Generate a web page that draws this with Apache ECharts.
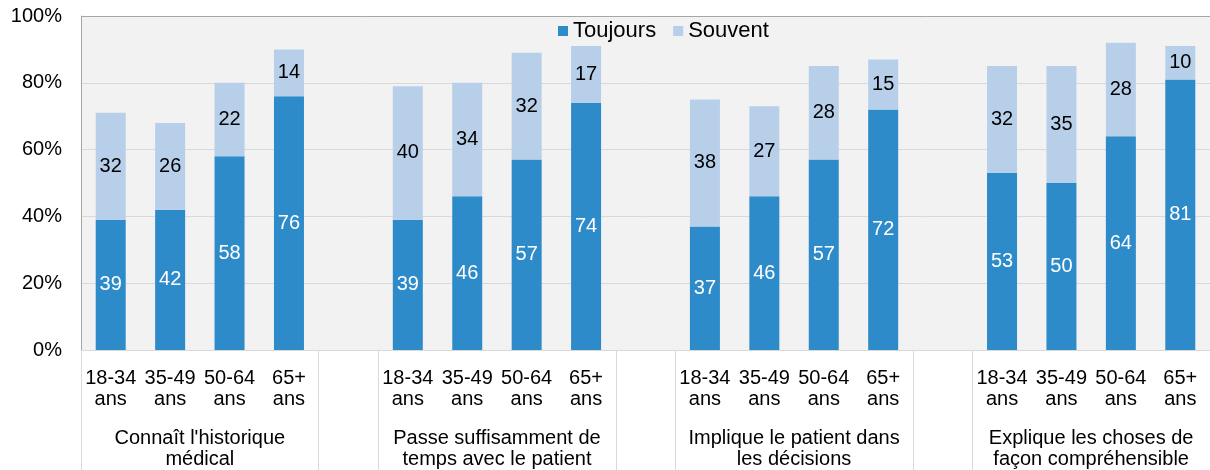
<!DOCTYPE html>
<html>
<head>
<meta charset="utf-8">
<script src="https://cdn.jsdelivr.net/npm/echarts@6/dist/echarts.min.js"></script>
<style>
  html, body { margin: 0; padding: 0; background: #fff; }
  #chart { width: 1210px; height: 470px; }
</style>
</head>
<body>
<div id="chart"></div>
<script>
// age brackets, '' = empty slot between groups
var ages = ['18-34\nans', '35-49\nans', '50-64\nans', '65+\nans']
var groups = ["Connaît l'historique\nmédical", 'Passe suffisamment de\ntemps avec le patient',
  'Implique le patient dans\nles décisions', 'Explique les choses de\nfaçon compréhensible']

var toujours = [
  [39, 42, 58, 76],
  [39, 46, 57, 74],
  [37, 46, 57, 72],
  [53, 50, 64, 81]
]
var souvent = [
  [32, 26, 22, 14],
  [40, 34, 32, 17],
  [38, 27, 28, 15],
  [32, 35, 28, 10]
]

var yTicks = [0, 20, 40, 60, 80, 100]

// flatten into 19 slots with a gap between each group
var categories = []
var toujoursFlat = []
var souventFlat = []
groups.forEach(function (g, gi) {
  if (gi > 0) {
    categories.push('')
    toujoursFlat.push('-')
    souventFlat.push('-')
  }
  ages.forEach(function (a, ai) {
    categories.push(a)
    toujoursFlat.push(toujours[gi][ai])
    souventFlat.push(souvent[gi][ai])
  })
})

var slotCount = categories.length
var sepValues = []
var groupCenters = []
groups.forEach(function (g, gi) {
  sepValues.push(gi * 5, gi * 5 + 4)
  groupCenters.push(gi * 5 + 2)
})

var font = 'Liberation Sans, Arial, sans-serif'

var chart = echarts.init(document.getElementById('chart'))
chart.setOption({
  animation: false,
  textStyle: { fontFamily: font },
  legend: {
    data: ['Toujours', 'Souvent'],
    left: 553,
    top: 15,
    itemWidth: 10,
    itemHeight: 10,
    itemGap: 17,
    icon: 'rect',
    textStyle: { fontSize: 22, color: '#000', fontFamily: font }
  },
  grid: {
    left: 81,
    right: -1,
    top: 16,
    bottom: 120,
    show: true,
    borderWidth: 0,
    backgroundColor: '#f2f2f2'
  },
  xAxis: [
    {
      type: 'category',
      data: categories,
      axisLine: { show: true, lineStyle: { color: '#d9d9d9' } },
      axisTick: { show: false },
      axisLabel: {
        interval: 0,
        margin: 18,
        fontSize: 20,
        lineHeight: 21,
        color: '#000',
        fontFamily: font
      }
    },
    {
      type: 'value',
      position: 'bottom',
      min: 0,
      max: slotCount,
      axisLine: { show: false },
      splitLine: { show: false },
      axisTick: {
        show: true,
        customValues: sepValues,
        length: 120,
        lineStyle: { color: '#d9d9d9' }
      },
      axisLabel: {
        customValues: groupCenters,
        margin: 78,
        fontSize: 20,
        lineHeight: 21,
        color: '#000',
        fontFamily: font,
        formatter: function (v) {
          return groups[(v - 2) / 5] || ''
        }
      }
    }
  ],
  yAxis: {
    type: 'value',
    min: yTicks[0],
    max: yTicks[yTicks.length - 1],
    interval: 20,
    axisLine: { show: true, lineStyle: { color: '#a6a6a6' } },
    axisTick: { show: false },
    splitLine: {
      show: true,
      lineStyle: { color: ['#d9d9d9', '#d9d9d9', '#d9d9d9', '#d9d9d9', '#d9d9d9', '#a6a6a6'] }
    },
    axisLabel: {
      margin: 19,
      fontSize: 20,
      color: '#000',
      fontFamily: font,
      formatter: '{value}%'
    }
  },
  series: [
    {
      name: 'Toujours',
      type: 'bar',
      stack: 'total',
      barWidth: 30,
      data: toujoursFlat,
      itemStyle: { color: '#2e8bc9' },
      label: { show: true, position: 'inside', color: '#fff', fontSize: 20, fontFamily: font }
    },
    {
      name: 'Souvent',
      type: 'bar',
      stack: 'total',
      barWidth: 30,
      data: souventFlat,
      itemStyle: { color: '#b8cfea' },
      label: { show: true, position: 'inside', color: '#000', fontSize: 20, fontFamily: font }
    }
  ]
})
</script>
</body>
</html>
